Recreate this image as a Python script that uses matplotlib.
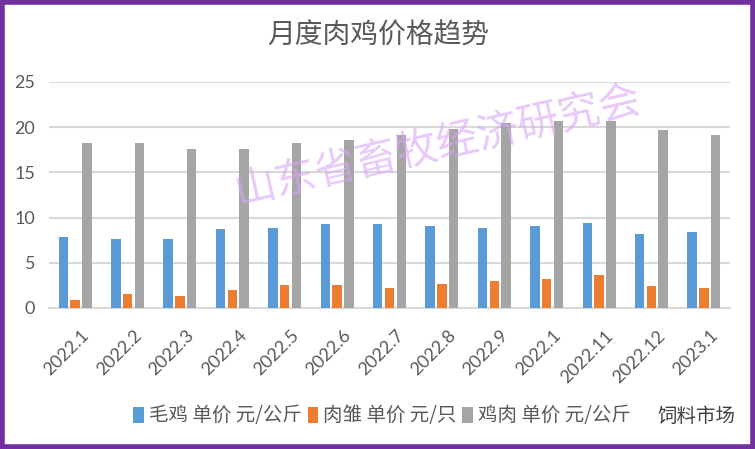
import matplotlib
matplotlib.use("Agg")
import matplotlib.pyplot as plt
from matplotlib.patches import Rectangle
import matplotlib.transforms as mtrans
import numpy as np

plt.rcParams['font.family'] = ['Noto Sans CJK SC', 'DejaVu Sans']

categories = ["2022.1", "2022.2", "2022.3", "2022.4", "2022.5", "2022.6", "2022.7",
              "2022.8", "2022.9", "2022.1", "2022.11", "2022.12", "2023.1"]
maoji = [7.8, 7.6, 7.6, 8.7, 8.9, 9.3, 9.3, 9.1, 8.9, 9.1, 9.4, 8.2, 8.4]
rouchu = [0.9, 1.6, 1.3, 2.0, 2.5, 2.5, 2.2, 2.7, 3.0, 3.2, 3.7, 2.4, 2.2]
jirou = [18.3, 18.2, 17.6, 17.6, 18.2, 18.6, 19.1, 19.8, 20.5, 20.7, 20.7, 19.7, 19.1]
series_names = ["毛鸡 单价 元/公斤", "肉雏 单价 元/只", "鸡肉 单价 元/公斤"]
colors = ["#5B9BD5", "#ED7D31", "#A5A5A5"]
yticks = [0, 5, 10, 15, 20, 25]

fig = plt.figure(figsize=(7.55, 4.49), dpi=100)
ax = fig.add_axes([49/755, 1 - 308/449, 681/755, 226/449])

x = np.arange(len(categories))
w = 0.18
step = 0.225
for i, (vals, name, c) in enumerate(zip([maoji, rouchu, jirou], series_names, colors)):
    ax.bar(x + (i - 1) * step, vals, width=w, color=c, label=name, zorder=3)

numfont = ['Lato', 'Noto Sans CJK SC']
ax.set_xlim(-0.5, len(categories) - 0.5)
ax.set_ylim(0, 25)
ax.set_yticks(yticks)
ax.set_yticklabels([str(v) for v in yticks], family=numfont)
ax.yaxis.grid(True, color="#D9D9D9", linewidth=1.5, zorder=0)
ax.tick_params(axis='y', length=0, labelsize=13, labelcolor="#595959", pad=10)
ax.tick_params(axis='x', length=0, labelsize=13, labelcolor="#595959", pad=14)
ax.set_xticks(x)
ax.set_xticklabels(categories, rotation=45, ha='right', rotation_mode='anchor', family=numfont)
for s in ["top", "right", "left"]:
    ax.spines[s].set_visible(False)
ax.spines["bottom"].set_color("#D9D9D9")
ax.spines["bottom"].set_linewidth(1.5)

offset = mtrans.ScaledTranslation(6/100, 0, fig.dpi_scale_trans)
for lbl in ax.get_xticklabels():
    lbl.set_transform(lbl.get_transform() + offset)

fig.text(378/755, 1 - 36/449, "月度肉鸡价格趋势", ha='center', va='center',
         fontsize=20, color="#595959", fontweight='light')

leg = fig.legend(loc='center', bbox_to_anchor=(382/755, 1 - 416/449), ncol=3,
                 frameon=False, fontsize=14, handlelength=0.55, handleheight=0.9,
                 handletextpad=0.25, columnspacing=0.3, labelcolor="#595959")

fig.text(438/755, 1 - 146/449, "山东省畜牧经济研究会", ha='center', va='center',
         fontsize=30, color="#D9A6F5", alpha=0.6, rotation=13)

fig.text(697/755, 1 - 416/449, "饲料市场", ha='center', va='center',
         fontsize=14, color="#404040")

fig.patches.append(Rectangle((0.003, 0.005), 0.994, 0.99, transform=fig.transFigure,
                             fill=False, edgecolor="#7030A0", linewidth=4))

fig.savefig("out.png", dpi=100)
